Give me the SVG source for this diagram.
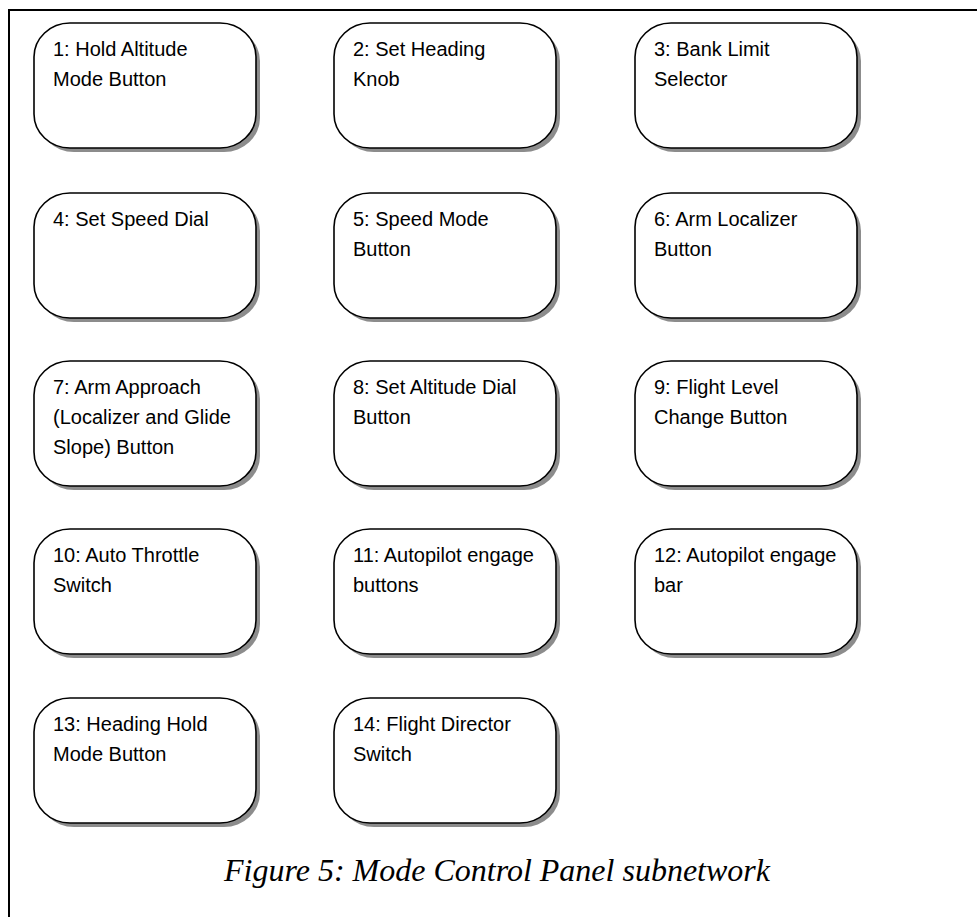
<svg xmlns="http://www.w3.org/2000/svg" width="977" height="917" viewBox="0 0 977 917">
  <style>
    .frame { fill: none; stroke: #000; stroke-width: 2; }
    .shadow { fill: #8c8c8c; }
    .box { fill: #fff; stroke: #000; stroke-width: 1.6; }
    .label { font-family: "Liberation Sans", Arial, sans-serif; font-size: 20px; fill: #000; }
    .caption { font-family: "Liberation Serif", "Times New Roman", serif; font-style: italic; font-size: 32px; fill: #000; }
  </style>
  <defs>
    <!-- one rounded node with its drop shadow -->
    <g id="node-shape">
      <rect class="shadow" x="4" y="4" width="222" height="125" rx="36" ry="34"/>
      <rect class="box" x="0" y="0" width="222" height="125" rx="36" ry="34"/>
    </g>
  </defs>

  <rect width="977" height="917" fill="#fff"/>
  <!-- page frame: only its top and left edges fall inside the view -->
  <rect class="frame" x="9" y="10" width="1000" height="1000"/>

  <g id="connectors"/>

  <g id="n1" transform="translate(34,23)">
    <use href="#node-shape"/>
    <text class="label" x="19" y="33">1: Hold Altitude</text>
    <text class="label" x="19" y="63">Mode Button</text>
  </g>
  <g id="n2" transform="translate(334,23)">
    <use href="#node-shape"/>
    <text class="label" x="19" y="33">2: Set Heading</text>
    <text class="label" x="19" y="63">Knob</text>
  </g>
  <g id="n3" transform="translate(635,23)">
    <use href="#node-shape"/>
    <text class="label" x="19" y="33">3: Bank Limit</text>
    <text class="label" x="19" y="63">Selector</text>
  </g>

  <g id="n4" transform="translate(34,193)">
    <use href="#node-shape"/>
    <text class="label" x="19" y="33">4: Set Speed Dial</text>
  </g>
  <g id="n5" transform="translate(334,193)">
    <use href="#node-shape"/>
    <text class="label" x="19" y="33">5: Speed Mode</text>
    <text class="label" x="19" y="63">Button</text>
  </g>
  <g id="n6" transform="translate(635,193)">
    <use href="#node-shape"/>
    <text class="label" x="19" y="33">6: Arm Localizer</text>
    <text class="label" x="19" y="63">Button</text>
  </g>

  <g id="n7" transform="translate(34,361)">
    <use href="#node-shape"/>
    <text class="label" x="19" y="33">7: Arm Approach</text>
    <text class="label" x="19" y="63">(Localizer and Glide</text>
    <text class="label" x="19" y="93">Slope) Button</text>
  </g>
  <g id="n8" transform="translate(334,361)">
    <use href="#node-shape"/>
    <text class="label" x="19" y="33">8: Set Altitude Dial</text>
    <text class="label" x="19" y="63">Button</text>
  </g>
  <g id="n9" transform="translate(635,361)">
    <use href="#node-shape"/>
    <text class="label" x="19" y="33">9: Flight Level</text>
    <text class="label" x="19" y="63">Change Button</text>
  </g>

  <g id="n10" transform="translate(34,529)">
    <use href="#node-shape"/>
    <text class="label" x="19" y="33">10: Auto Throttle</text>
    <text class="label" x="19" y="63">Switch</text>
  </g>
  <g id="n11" transform="translate(334,529)">
    <use href="#node-shape"/>
    <text class="label" x="19" y="33">11: Autopilot engage</text>
    <text class="label" x="19" y="63">buttons</text>
  </g>
  <g id="n12" transform="translate(635,529)">
    <use href="#node-shape"/>
    <text class="label" x="19" y="33">12: Autopilot engage</text>
    <text class="label" x="19" y="63">bar</text>
  </g>

  <g id="n13" transform="translate(34,698)">
    <use href="#node-shape"/>
    <text class="label" x="19" y="33">13: Heading Hold</text>
    <text class="label" x="19" y="63">Mode Button</text>
  </g>
  <g id="n14" transform="translate(334,698)">
    <use href="#node-shape"/>
    <text class="label" x="19" y="33">14: Flight Director</text>
    <text class="label" x="19" y="63">Switch</text>
  </g>

  <text class="caption" x="497" y="881" text-anchor="middle">Figure 5: Mode Control Panel subnetwork</text>
</svg>
